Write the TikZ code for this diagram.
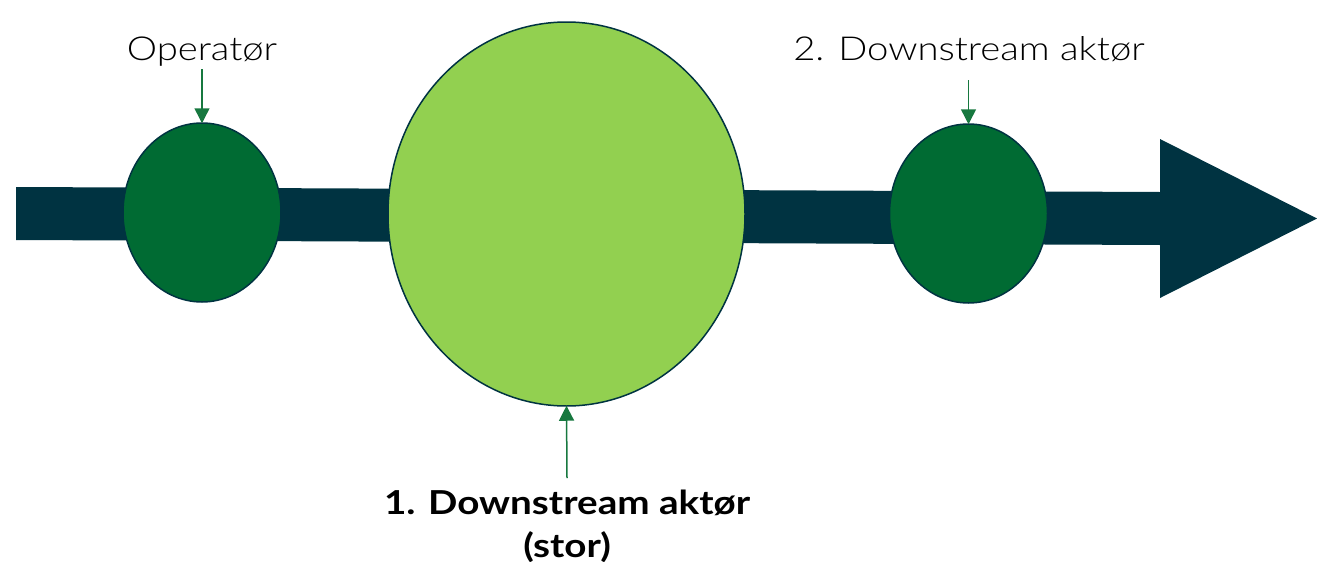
\documentclass[tikz,border=0pt]{standalone}
\usepackage{fontspec}
\setmainfont{Lato}
\newfontfamily\lightlbl[FakeStretch=1.16]{Lato Light}
\newfontfamily\boldlbl[FakeStretch=1.17]{Lato Bold}
\usetikzlibrary{arrows.meta,shapes.geometric}
\definecolor{navy}{HTML}{003341}
\definecolor{dgreen}{HTML}{006B33}
\definecolor{lgreen}{HTML}{92D050}
\definecolor{agreen}{HTML}{17783F}
\tikzset{
  small/.style={ellipse, draw=navy, line width=1.5pt, fill=dgreen, minimum width=158pt, minimum height=179pt, inner sep=0pt},
  big/.style={ellipse, draw=navy, line width=1.5pt, fill=lgreen, minimum width=357pt, minimum height=384pt, inner sep=0pt},
  lbl/.style={font=\fontsize{33}{40}\lightlbl, inner sep=0pt, align=center},
  blbl/.style={font=\fontsize{33}{40}\boldlbl, inner sep=0pt, align=center},
  pointer/.style={draw=agreen, line width=1.5pt, -{Triangle[length=15pt,width=15pt]}, shorten >=-1pt}
}
\begin{document}
\begin{tikzpicture}[x=1pt,y=-1pt]
\useasboundingbox (0,0) rectangle (1317,562);
% block arrow
\fill[navy] (16,187) -- (1160,192) -- (1160,139) -- (1317,218.5) -- (1160,298) -- (1160,245) -- (16,240) -- cycle;
\node[small] (op) at (202,212.5) {};
\node[big] (d1) at (566.5,214) {};
\node[small] (d2) at (968.5,213.5) {};
\node[lbl, anchor=base] (lop) at (202,60) {Operatør};
\node[lbl, anchor=base] (ld2) at (969,60) {2. Downstream aktør};
\node[blbl, anchor=base] (ld1) at (567,514) {1. Downstream aktør};
\node[blbl, anchor=base] (ld1b) at (567,557) {(stor)};
\coordinate (s1) at (202,69);
\coordinate (s2) at (968.5,80);
\coordinate (s3) at (567,478);
\draw[pointer] (s1) -- (op.north);
\draw[pointer] (s2) -- (d2.north);
\draw[pointer] (s3) -- (d1.south);
\end{tikzpicture}
\end{document}
